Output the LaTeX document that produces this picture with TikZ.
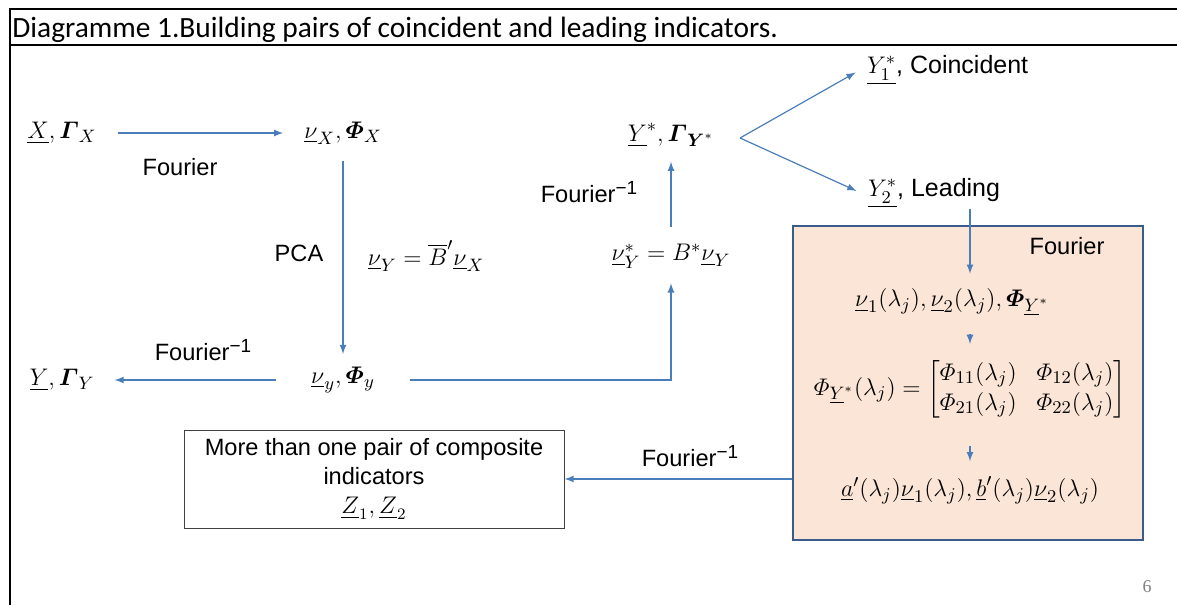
\documentclass[tikz,border=0pt]{standalone}
\usepackage{amsmath}
\usepackage[no-math]{fontspec}
\setmainfont{Liberation Sans}
\newfontfamily\titlefont{Carlito}
\newfontfamily\pagefont{Liberation Serif}
\usetikzlibrary{arrows, positioning}
\usepackage{xcolor}
\definecolor{arrowblue}{HTML}{4A7EBB}
\definecolor{peach}{HTML}{FBE5D6}
\definecolor{boxblue}{HTML}{3B5C8A}
\newcommand{\invsup}{\raisebox{0.6ex}{\fontsize{9.5}{10}\selectfont −1}}
\tikzstyle{arrow}   = [line width=0.6pt, arrowblue, -latex]
\tikzstyle{edge}    = [line width=0.6pt, arrowblue]
\tikzstyle{frame}   = [line width=1.3pt, black]
\tikzstyle{txt}     = [font=\fontsize{11.8}{14.5}\selectfont]
\tikzstyle{term}    = [font=\fontsize{12.5}{15}\selectfont]
\tikzstyle{freqbox} = [draw=boxblue, line width=1pt, fill=peach, minimum width=175pt, minimum height=157pt]
\tikzstyle{zbox}    = [draw=black!75, line width=0.5pt, minimum width=190pt, minimum height=49pt, align=center, font=\fontsize{11.8}{14.5}\selectfont]

\begin{document}
\begin{tikzpicture}[x=0.5pt, y=-0.5pt]
\useasboundingbox (0,0) rectangle (1177,605);

% frame and title
\draw[frame] (9,9) -- (1177,9);
\draw[frame] (9,45) -- (1177,45);
\draw[frame] (10,9) -- (10,605);
\node[anchor=base west, inner sep=0pt, font=\titlefont\fontsize{14.7}{16}\selectfont] (T) at (12,37) {Diagramme 1.Building pairs of coincident and leading indicators.};

% frequency domain box
\node[freqbox] (F) at (968,383) {};
\node[txt] (LF4) at (1067,246) {Fourier};

\node[term] (X)   at (62,133)  {$\underline{X},\boldsymbol{\varGamma}_X$};
\node[term] (VX)  at (343,133) {$\underline{\nu}_X,\boldsymbol{\varPhi}_X$};
\node[term] (Vy)  at (343,380) {$\underline{\nu}_y,\boldsymbol{\varPhi}_y$};
\node[term] (Yb)  at (62,380)  {$\underline{Y},\boldsymbol{\varGamma}_Y$};
\node[term] (B1)  at (426,256) {$\underline{\nu}_Y=\overline{B}'\underline{\nu}_X$};
\node[term] (VYs) at (671,256) {$\underline{\nu}_Y^{*}=B^{*}\underline{\nu}_Y$};
\node[term] (Ys)  at (671,135) {$\underline{Y}^{*},\boldsymbol{\varGamma}_{\boldsymbol{Y}^{*}}$};
\node[term, anchor=west] (Y1) at (860,70)  {$\underline{Y^{*}_{1}}$, Coincident};
\node[term, anchor=west] (Y2) at (861,193) {$\underline{Y^{*}_{2}}$, Leading};
\coordinate (Yfork) at (740,138);

\node[term] (V12)  at (952,302) {$\underline{\nu}_1(\lambda_j),\underline{\nu}_2(\lambda_j),\boldsymbol{\varPhi}_{\underline{Y}^{*}}$};
\node[term] (PhiM) at (970,389) {$\varPhi_{\underline{Y}^{*}}(\lambda_j)=\begin{bmatrix}\varPhi_{11}(\lambda_j) & \varPhi_{12}(\lambda_j)\\ \varPhi_{21}(\lambda_j) & \varPhi_{22}(\lambda_j)\end{bmatrix}$};
\node[term] (AB)   at (970,490) {$\underline{a}'(\lambda_j)\underline{\nu}_1(\lambda_j),\underline{b}'(\lambda_j)\underline{\nu}_2(\lambda_j)$};

\node[zbox] (Z) at (374,479) {More than one pair of composite\\indicators\\$\underline{Z}_1,\underline{Z}_2$};

\node[txt] (LF1)  at (180,167) {Fourier};
\node[txt] (LPCA) at (299,253) {PCA};
\node[txt] (LF2)  at (203,350) {Fourier\invsup};
\node[txt] (LF3)  at (589,192) {Fourier\invsup};
\node[txt] (LF5)  at (690,456) {Fourier\invsup};
\node[font=\pagefont\fontsize{9}{10}\selectfont, text=black!50] (P) at (1147,587) {6};

\draw[arrow, shorten <=7pt, shorten >=7pt] (X) -- (VX);
\draw[arrow, shorten <=5pt, shorten >=3pt] (VX) -- (Vy);
\draw[arrow, shorten <=14pt, shorten >=6.5pt] (Vy) -- (Yb);
\draw[arrow, shorten <=14pt, shorten >=4pt] (Vy) -| (VYs);
\draw[arrow, shorten <=5pt, shorten >=4pt] (VYs) -- (Ys);
\draw[arrow, shorten >=2.5pt] (Yfork) -- (Y1.west);
\draw[arrow, shorten >=2.5pt] (Yfork) -- (Y2.west);
\draw[arrow, shorten <=-3pt, shorten >=4pt] (Y2.south -| PhiM) -- (V12.north -| PhiM);
\draw[arrow, shorten <=6pt, shorten >=4pt] (V12.south -| PhiM) -- (PhiM);
\draw[arrow, shorten <=10pt, shorten >=4pt] (PhiM) -- (AB);
\draw[arrow] (Z.east -| F.west) -- (Z.east);

\end{tikzpicture}
\end{document}
